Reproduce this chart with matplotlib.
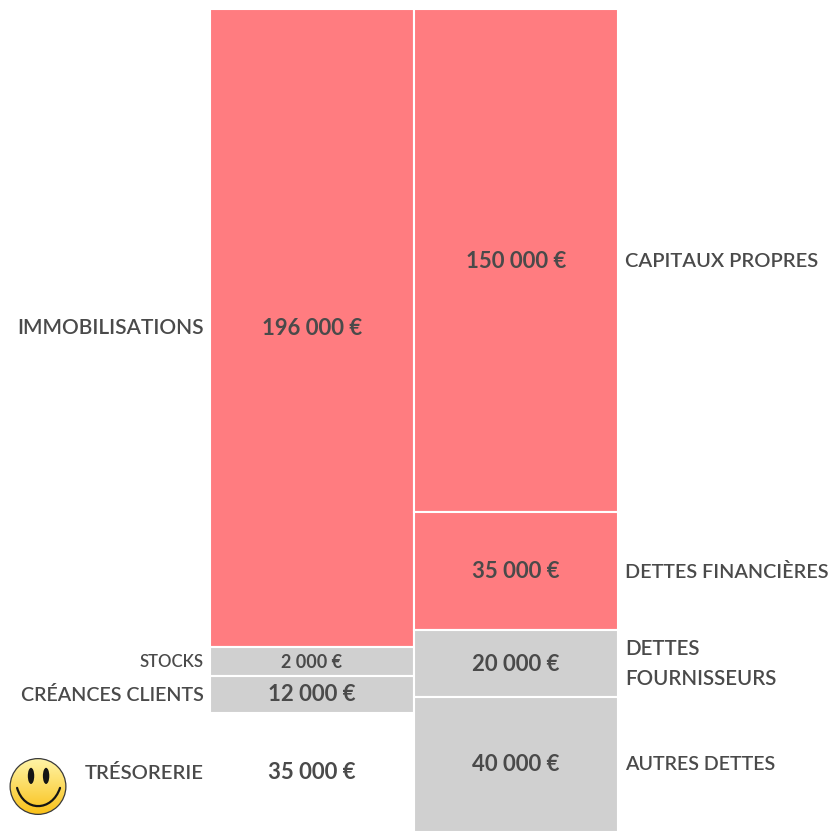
import numpy as np
import matplotlib
matplotlib.use("Agg")
import matplotlib.pyplot as plt
from matplotlib.patches import Circle, Ellipse, PathPatch
from matplotlib.path import Path

plt.rcParams['font.family'] = ['Lato', 'DejaVu Sans']

W, H = 837, 836
TOTAL = 245.0

# Left column (assets): drawn heights in k€ as shown in the picture, then printed labels
left_names = ["IMMOBILISATIONS", "STOCKS", "CRÉANCES CLIENTS", "TRÉSORERIE"]
left_heights = [190.1, 8.6, 11.0, 35.3]
left_values = ["196 000 €", "2 000 €", "12 000 €", "35 000 €"]
left_colors = ["#FF7C80", "#D0D0D0", "#D0D0D0", "none"]
left_name_sizes = [15.0, 12.0, 14.15, 14.6]
left_value_sizes = [15.9, 13.0, 15.9, 15.9]

# Right column (liabilities)
right_names = ["CAPITAUX PROPRES", "DETTES FINANCIÈRES", "DETTES\nFOURNISSEURS", "AUTRES DETTES"]
right_heights = [150, 35, 20, 40]
right_values = ["150 000 €", "35 000 €", "20 000 €", "40 000 €"]
right_colors = ["#FF7C80", "#FF7C80", "#D0D0D0", "#D0D0D0"]
right_name_sizes = [14.5, 14.25, 14.8, 14.1]
right_value_sizes = [15.9, 15.9, 15.9, 15.9]

TEXT = "#4a4a4a"

fig = plt.figure(figsize=(W / 100, H / 100), dpi=100)
ax = fig.add_axes([0, 0, 1, 1])
# x: column index, spacing 204 px; y: k€ from the bottom of the stack
px = 204.0
x0 = 312.0 / px
ax.set_xlim(-x0, (W - 312.0) / px)
top_px, bottom_px = 8.8, 831.5
scale = (bottom_px - top_px) / TOTAL
ax.set_ylim(-(H - bottom_px) / scale, TOTAL + top_px / scale)
ax.axis("off")
DOWN = -0.5 * 0.72


def column(x, heights, colors, values, names, name_sizes, value_sizes, side):
    top = TOTAL
    for h, c, v, n, ns, vs in zip(heights, colors, values, names, name_sizes, value_sizes):
        bottom = top - h
        mid = (top + bottom) / 2
        if c != "none":
            ax.bar(x, h, bottom=bottom, width=1.0, color=c, edgecolor="white", linewidth=1.5)
        ax.annotate(v, (x, mid), xytext=(0, DOWN), textcoords="offset points",
                    ha="center", va="center", fontsize=vs, fontweight="bold", color=TEXT)
        if side == "left":
            ax.annotate(n, (x - 0.5, mid), xytext=(-6 * 0.72, DOWN), textcoords="offset points",
                        ha="right", va="center", fontsize=ns, color=TEXT, fontweight="semibold")
        else:
            ax.annotate(n, (x + 0.5, mid), xytext=(7.5 * 0.72, DOWN), textcoords="offset points",
                        ha="left", va="center", fontsize=ns, color=TEXT, fontweight="semibold",
                        linespacing=1.6)
        top = bottom


column(0, left_heights, left_colors, left_values, left_names, left_name_sizes, left_value_sizes, "left")
column(1, right_heights, right_colors, right_values, right_names, right_name_sizes, right_value_sizes, "right")

# Smiley, in its own inset axes
cx, cy, r = 38.0, 786.5, 28.0
sax = fig.add_axes([(cx - r - 1) / W, 1 - (cy + r + 1) / H, (2 * r + 2) / W, (2 * r + 2) / H])
sax.set_xlim(-1.04, 1.04)
sax.set_ylim(-1.04, 1.04)
sax.axis("off")
grad = np.linspace(0, 1, 128)[:, None, None]
c_top = np.array([1.0, 0.96, 0.66])
c_bot = np.array([0.98, 0.76, 0.10])
img = sax.imshow(c_top * (1 - grad) + c_bot * grad, extent=(-1, 1, -1, 1), aspect="auto", zorder=1)
img.set_clip_path(Circle((0, 0), 1, transform=sax.transData))
sax.add_patch(Circle((0, 0), 1, fill=False, ec="#3a3a3a", lw=0.9, zorder=2))
for ex in (-0.25, 0.29):
    sax.add_patch(Ellipse((ex, 0.38), 0.23, 0.58, fc="#151515", ec="none", zorder=3))
smile = Path([(-0.75, -0.05), (-0.5, -0.92), (0.5, -0.92), (0.79, -0.05)],
             [Path.MOVETO, Path.CURVE4, Path.CURVE4, Path.CURVE4])
sax.add_patch(PathPatch(smile, fc="none", ec="#151515", lw=1.6, capstyle="round", zorder=3))

fig.savefig("out.png", dpi=100, facecolor="white")
